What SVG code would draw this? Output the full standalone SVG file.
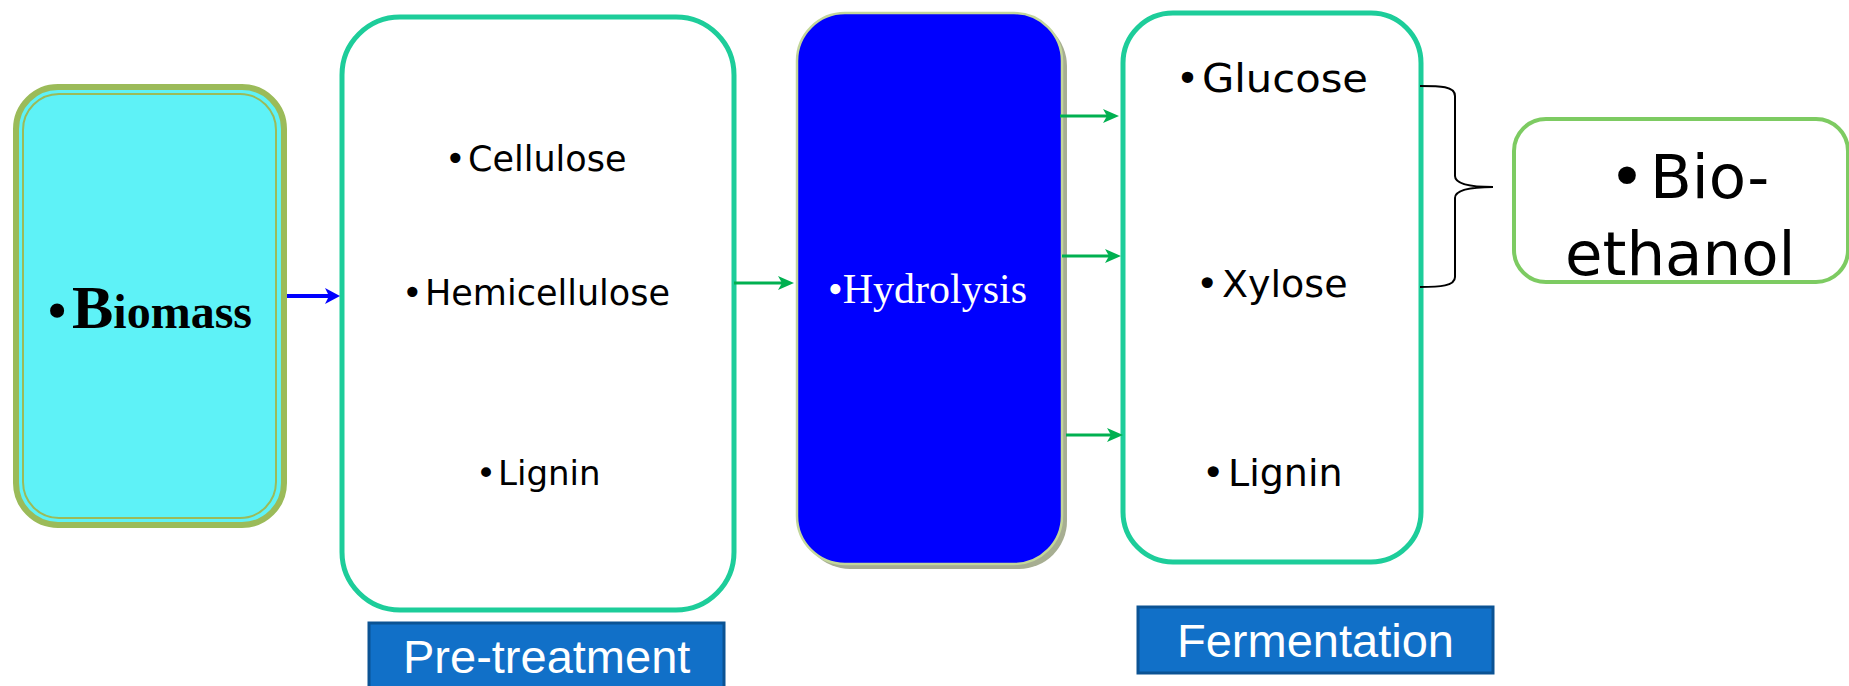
<svg xmlns="http://www.w3.org/2000/svg" width="1849" height="686" viewBox="0 0 1849 686">
<style>
.teal{fill:#fff;stroke:#1DCD9A;stroke-width:5}
.item{font-family:"DejaVu Sans",sans-serif;fill:#000}
.lbl{fill:#1170C8;stroke:#0B5394;stroke-width:3}
.lbltxt{font-family:"Liberation Sans",Arial,sans-serif;font-size:47px;fill:#fff}
.garrow{stroke:#00B050;stroke-width:3;fill:none}
</style>
<defs>
<marker id="ga" markerUnits="userSpaceOnUse" markerWidth="18" markerHeight="16" refX="8" refY="7" orient="auto">
<path d="M0,0 L16,7 L0,14 L4,7 z" fill="#00B050"/>
</marker>
<marker id="ba" markerUnits="userSpaceOnUse" markerWidth="18" markerHeight="18" refX="7" refY="8" orient="auto">
<path d="M0,0 L15,8 L0,16 L4,8 z" fill="#0000FF"/>
</marker>
</defs>

<g id="biomass">
<rect x="16" y="87" width="268" height="438" rx="42" fill="#5EF2F7" stroke="#9BBB59" stroke-width="6"/>
<rect x="23" y="94" width="253" height="424" rx="36" fill="none" stroke="#9BBB59" stroke-width="2"/>
<text y="328" font-family="'Liberation Serif','Times New Roman',serif" font-weight="bold" fill="#000"><tspan x="48" font-size="52">•</tspan><tspan x="72" font-size="62">B</tspan><tspan font-size="48">iomass</tspan></text>
</g>

<g id="pretreatment">
<rect class="teal" x="342" y="17" width="392" height="593" rx="58"/>
<text class="item" y="171" font-size="35"><tspan x="445">•</tspan><tspan x="468">Cellulose</tspan></text>
<text class="item" y="305" font-size="35"><tspan x="402">•</tspan><tspan x="425">Hemicellulose</tspan></text>
<text class="item" y="485" font-size="34"><tspan x="476">•</tspan><tspan x="498">Lignin</tspan></text>
</g>

<g id="pretreatment-label">
<rect class="lbl" x="369" y="623" width="355" height="80"/>
<text class="lbltxt" x="403" y="673">Pre-treatment</text>
</g>

<g id="hydrolysis">
<rect x="802" y="18" width="265" height="551" rx="48" fill="#A7AE92"/>
<rect x="797" y="13" width="265" height="551" rx="48" fill="#0000FF" stroke="#C3D69B" stroke-width="2.5"/>
<text x="828" y="303" font-family="'Liberation Serif','Times New Roman',serif" font-size="42" fill="#fff">•Hydrolysis</text>
</g>

<g id="fermentation">
<rect class="teal" x="1123" y="13" width="298" height="549" rx="50"/>
<text class="item" y="92" font-size="39"><tspan x="1176">•</tspan><tspan x="1202" textLength="166" lengthAdjust="spacingAndGlyphs">Glucose</tspan></text>
<text class="item" y="297" font-size="38"><tspan x="1196">•</tspan><tspan x="1222">Xylose</tspan></text>
<text class="item" y="486" font-size="38"><tspan x="1202">•</tspan><tspan x="1228">Lignin</tspan></text>
</g>

<g id="fermentation-label">
<rect class="lbl" x="1138" y="607" width="355" height="66"/>
<text class="lbltxt" x="1177" y="657">Fermentation</text>
</g>

<g id="bioethanol">
<rect x="1514" y="119" width="334" height="163" rx="32" fill="#fff" stroke="#7DCB62" stroke-width="4"/>
<text font-family="'DejaVu Sans',sans-serif" font-size="61" fill="#000"><tspan x="1609" y="198">•</tspan><tspan x="1650" y="198">Bio-</tspan><tspan x="1565" y="275">ethanol</tspan></text>
</g>

<g id="connectors">
<path d="M287,296 L332,296" stroke="#0000FF" stroke-width="4" fill="none" marker-end="url(#ba)"/>
<path class="garrow" d="M734,283 L786,283" marker-end="url(#ga)"/>
<path class="garrow" d="M1060,116 L1111,116" marker-end="url(#ga)"/>
<path class="garrow" d="M1062,256 L1113,256" marker-end="url(#ga)"/>
<path class="garrow" d="M1066,435 L1115,435" marker-end="url(#ga)"/>
<path d="M1420,86 C1440,86 1455,86 1455,96 L1455,176 C1455,184 1470,187 1493,187 C1470,187 1455,190 1455,198 L1455,277 C1455,286 1440,287 1420,287" fill="none" stroke="#000" stroke-width="2"/>
</g>
</svg>
